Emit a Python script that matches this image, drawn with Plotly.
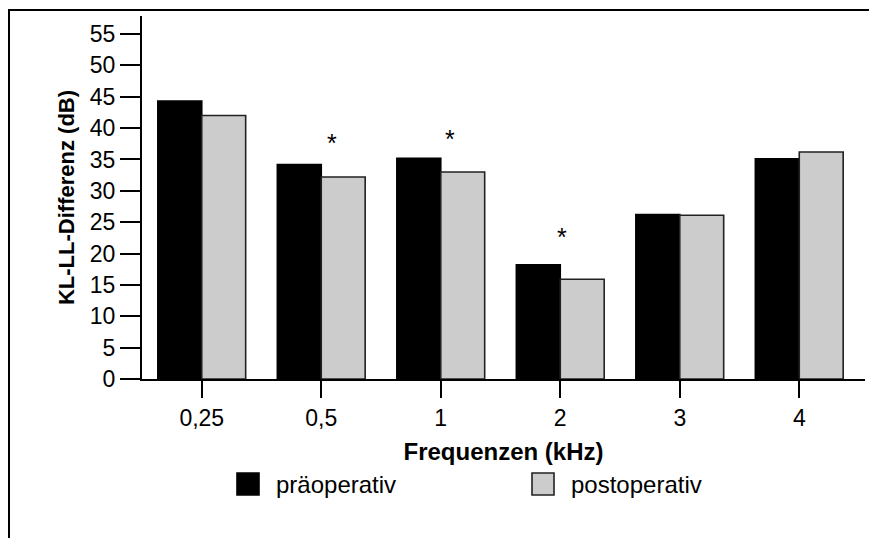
import plotly.graph_objects as go

categories = ["0,25", "0,5", "1", "2", "3", "4"]
pre_values = [44.3, 34.2, 35.2, 18.2, 26.2, 35.1]
post_values = [42.0, 32.2, 33.0, 15.9, 26.1, 36.2]
sig_categories = ["0,5", "1", "2"]
sig_y = [37.6, 38.3, 22.6]
sig_xshift = [11, 9, 2]
y_ticks = [0, 5, 10, 15, 20, 25, 30, 35, 40, 45, 50, 55]
series_names = ["präoperativ", "postoperativ"]
series_colors = ["#000000", "#cccccc"]
series_lines = ["#000000", "#222222"]

FONT = "Liberation Sans, Arial, sans-serif"

# page has an 8px body margin: work in page pixel coordinates, then offset
OFF = 8
W, H = 877 - OFF, 538 - OFF
L, T = 142 - OFF, 16 - OFF
R_px, B_px = 865 - OFF, 379 - OFF
pw, ph = R_px - L, B_px - T


def px(xp):
    return (xp - OFF - L) / pw


def py(yp):
    return (B_px - (yp - OFF)) / ph


fig = go.Figure()
for name, vals, col, lc in zip(series_names, [pre_values, post_values], series_colors, series_lines):
    fig.add_trace(go.Bar(
        name=name, x=categories, y=vals, showlegend=False,
        marker=dict(color=col, line=dict(color=lc, width=1.6)),
    ))

for c, yv, xs in zip(sig_categories, sig_y, sig_xshift):
    fig.add_annotation(x=categories.index(c), y=yv, text="*", showarrow=False, xshift=xs,
                       font=dict(family=FONT, size=25, color="#000"))

# outer frame (top and left edges visible)
fig.add_shape(type="line", xref="paper", yref="paper",
              x0=px(8), x1=px(900), y0=py(10), y1=py(10),
              line=dict(color="#000", width=2))
fig.add_shape(type="line", xref="paper", yref="paper",
              x0=px(9), x1=px(9), y0=py(9), y1=py(560),
              line=dict(color="#000", width=2))

# legend (drawn as boxes + labels to match the large swatches)
legend_x = [237, 532]
legend_y = 484
for name, col, lc, lx in zip(series_names, series_colors, series_lines, legend_x):
    fig.add_shape(type="rect", xref="paper", yref="paper",
                  x0=px(lx), x1=px(lx + 22), y0=py(legend_y - 11), y1=py(legend_y + 11),
                  fillcolor=col, line=dict(color=lc, width=1.6))
    fig.add_annotation(xref="paper", yref="paper", x=px(lx + 37), y=py(legend_y),
                       xanchor="left", yanchor="middle", showarrow=False, text=name,
                       font=dict(family=FONT, size=24, color="#000"))

fig.update_layout(
    width=W, height=H,
    margin=dict(l=L, r=W - R_px, t=T, b=H - B_px),
    plot_bgcolor="white", paper_bgcolor="white",
    barmode="group", bargap=0.265, bargroupgap=0,
    font=dict(family=FONT, size=23, color="#000"),
    showlegend=False,
    xaxis=dict(
        type="category", range=[-0.5, 5.55],
        showline=True, linecolor="#000", linewidth=2,
        ticks="outside", ticklen=17, tickwidth=2, tickcolor="#000",
        showgrid=False, zeroline=False,
        tickfont=dict(family=FONT, size=23),
        ticklabelstandoff=0,
        title=dict(text="<b>Frequenzen (kHz)</b>", standoff=14,
                   font=dict(family=FONT, size=24)),
    ),
    yaxis=dict(
        range=[0, 57.87],
        tickvals=y_ticks,
        showline=True, linecolor="#000", linewidth=2,
        ticks="outside", ticklen=20, tickwidth=2, tickcolor="#000",
        showgrid=False, zeroline=False,
        tickfont=dict(family=FONT, size=23),
        title=dict(text="<b>KL-LL-Differenz (dB)</b>", standoff=9,
                   font=dict(family=FONT, size=22)),
    ),
)

fig.write_html("out.html")
